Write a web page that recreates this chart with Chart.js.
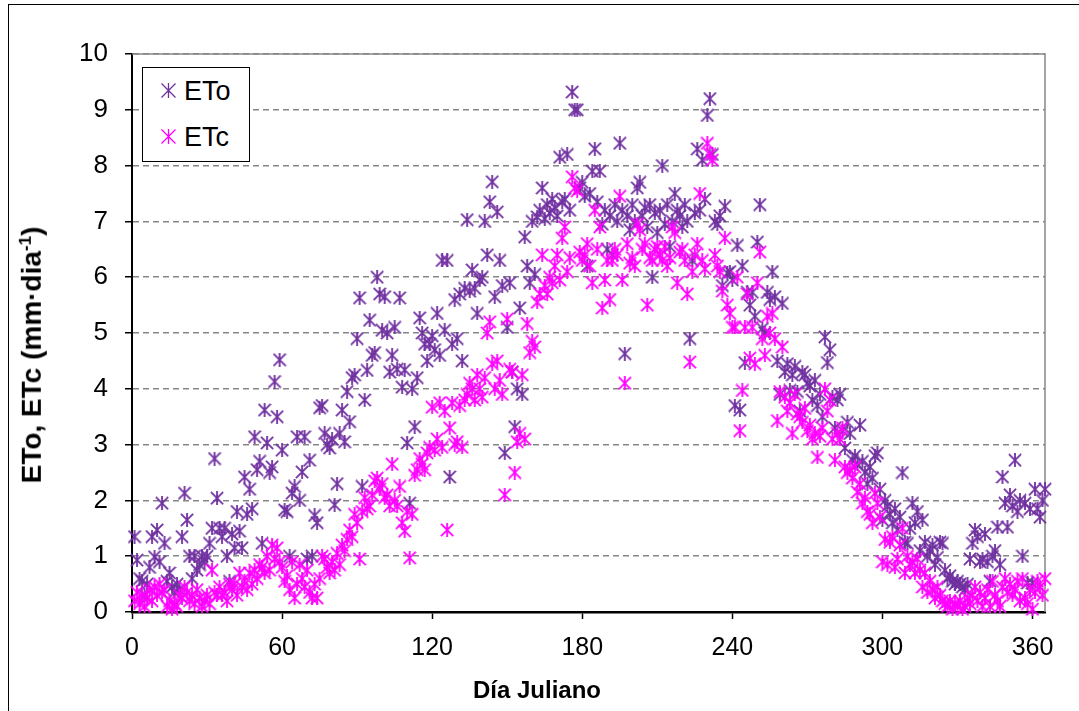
<!DOCTYPE html>
<html>
<head>
<meta charset="utf-8">
<script src="https://cdn.jsdelivr.net/npm/chart.js@4.4.1/dist/chart.umd.min.js"></script>
<style>
  body { margin: 0; background: #fff; }
  #wrap { position: relative; width: 1079px; height: 711px; overflow: hidden; background: #fff; }
  #frame { position: absolute; left: 8px; top: 4px; width: 1200px; height: 900px; border: 1px solid #000; }
  #chart { position: absolute; left: 0; top: 0; }
  .axis-title { position: absolute; font-family: "Liberation Sans", Arial, sans-serif; font-weight: bold; color: #000; white-space: nowrap; }
  #ytitle { left: 32px; top: 355px; font-size: 28px; transform: translate(-50%, -50%) rotate(-90deg); }
  #ytitle sup { font-size: 17px; }
  #xtitle { left: 537px; top: 690px; font-size: 24px; transform: translate(-50%, -50%); }
  #legend { position: absolute; left: 142px; top: 67px; width: 106px; height: 93px; border: 1px solid #000; background: #fff;
            font-family: "Liberation Sans", Arial, sans-serif; font-size: 27px; color: #000; }
  #legend .item { position: absolute; left: 18px; height: 30px; line-height: 30px; }
  #legend svg { vertical-align: middle; margin-right: 8px; position: relative; top: -2px; }
</style>
</head>
<body>
<div id="wrap">
  <div id="frame"></div>
  <canvas id="chart" width="1079" height="711"></canvas>
  <div id="ytitle" class="axis-title">ETo, ETc (mm·dia<sup>-1</sup>)</div>
  <div id="xtitle" class="axis-title">Día Juliano</div>
  <div id="legend"></div>
</div>
<script>
// daily values, day 1 .. 365
const firstDay = 1;
const seriesNames = ['ETo', 'ETc'];
const seriesColors = ['#7030A0', '#FF00FF'];

const eto = [
  1.35, 0.93, 0.6, 0.55, 0.3, 0.5, 0.8, 1.35, 0.99, 1.47,
  0.9, 1.95, 1.23, 0.55, 0.7, 0.45, 0.35, 0.5, 0.4, 1.35,
  2.13, 1.65, 1.0, 0.6, 1.0, 0.75, 0.85, 1.0, 0.9, 1.0,
  1.23, 1.5, 2.75, 2.04, 1.5, 1.35, 1.5, 1.0, 0.55, 1.4,
  1.15, 1.8, 1.45, 1.15, 2.42, 1.75, 2.2, 1.85, 3.14, 2.55,
  2.7, 1.23, 3.62, 3.03, 2.5, 2.6, 4.13, 3.5, 4.52, 2.9,
  1.83, 1.8, 1.0, 2.13, 2.25, 3.14, 2.0, 2.51, 3.14, 0.95,
  2.72, 1.0, 1.73, 1.6, 3.66, 3.7, 3.2, 3.0, 2.94, 3.1,
  1.92, 2.3, 3.2, 3.62, 3.05, 3.95, 3.41, 4.2, 4.25, 4.9,
  5.63, 2.25, 3.8, 4.33, 5.23, 4.6, 4.65, 6.0, 5.7, 5.05,
  5.65, 5.0, 4.3, 4.6, 5.1, 4.35, 5.63, 4.03, 4.34, 3.03,
  1.95, 4.0, 3.32, 4.2, 5.27, 5.0, 4.8, 4.5, 4.8, 4.95,
  4.7, 5.35, 4.6, 6.3, 5.05, 6.3, 2.42, 4.8, 5.6, 4.9,
  5.7, 4.5, 5.8, 7.03, 5.75, 6.13, 5.8, 5.35, 5.95, 6.0,
  7.0, 6.4, 7.35, 7.71, 5.65, 7.17, 6.3, 5.85, 2.85, 5.1,
  5.9, 4.3, 3.32, 4.0, 5.45, 3.9, 6.72, 6.2, 5.9, 7.0,
  6.05, 7.08, 7.2, 7.6, 7.05, 7.3, 7.15, 7.4, 7.25, 7.1,
  8.15, 7.35, 7.4, 8.2, 7.2, 9.32, 9.0, 9.0, 7.6, 7.7,
  7.45, 6.2, 7.5, 7.9, 8.3, 7.35, 7.9, 6.95, 7.2, 6.5,
  7.1, 6.4, 7.3, 7.0, 8.4, 7.2, 4.63, 7.1, 6.85, 7.3,
  7.0, 7.6, 7.7, 7.1, 7.25, 6.9, 7.3, 6.0, 7.15, 6.8,
  7.2, 8.0, 6.95, 7.3, 6.55, 7.0, 7.5, 7.2, 7.1, 6.9,
  7.3, 7.0, 4.9, 6.3, 7.15, 8.3, 7.2, 8.1, 7.4, 8.9,
  9.2, 8.2, 7.0, 6.95, 7.1, 5.85, 7.27, 6.07, 6.1, 5.95,
  3.7, 6.57, 3.62, 6.2, 4.47, 5.73, 5.5, 5.73, 5.3, 6.63,
  7.3, 5.08, 5.0, 5.73, 5.6, 6.1, 5.65, 4.5, 3.9, 5.53,
  4.3, 4.45, 3.97, 4.25, 4.4, 3.95, 3.6, 4.3, 4.25, 4.1,
  4.05, 3.8, 4.15, 3.7, 3.9, 3.5, 4.93, 4.47, 4.7, 3.85,
  3.3, 3.8, 3.9, 3.25, 2.94, 3.4, 3.2, 2.72, 2.8, 2.65,
  3.35, 2.7, 2.5, 2.3, 2.6, 2.4, 2.8, 2.85, 2.2, 1.65,
  2.0, 1.9, 1.75, 1.6, 1.85, 1.47, 1.7, 2.5, 1.25, 1.23,
  1.5, 1.95, 1.6, 1.8, 1.1, 1.65, 1.25, 1.0, 1.1, 1.2,
  0.85, 0.98, 1.25, 1.23, 0.75, 0.6, 0.65, 0.55, 0.5, 0.55,
  0.5, 0.45, 0.4, 0.5, 0.95, 1.23, 1.47, 1.35, 0.9, 0.95,
  1.4, 0.9, 0.55, 1.0, 1.1, 1.52, 0.85, 2.42, 1.95, 1.52,
  2.1, 1.9, 2.72, 1.8, 2.0, 1.0, 1.95, 0.52, 1.85, 0.52,
  2.2, 1.85, 1.7, 2.0, 2.2
];

const etc = [
  0.2, 0.35, 0.15, 0.3, 0.1, 0.25, 0.4, 0.2, 0.45, 0.3,
  0.5, 0.35, 0.4, 0.1, 0.2, 0.05, 0.15, 0.1, 0.3, 0.25,
  0.45, 0.35, 0.2, 0.3, 0.15, 0.4, 0.25, 0.1, 0.2, 0.3,
  0.15, 0.75, 0.35, 0.3, 0.45, 0.3, 0.35, 0.2, 0.5, 0.4,
  0.5, 0.3, 0.7, 0.45, 0.55, 0.4, 0.7, 0.5, 0.75, 0.6,
  0.85, 0.8, 0.7, 1.0, 0.75, 1.2, 0.95, 1.15, 0.9, 0.8,
  0.55, 0.65, 0.4, 0.9, 0.25, 0.5, 0.85, 0.6, 0.45, 0.75,
  0.35, 0.25, 0.5, 0.25, 0.6, 1.0, 0.95, 0.8, 0.7, 0.9,
  0.75, 1.05, 0.85, 1.2, 1.1, 1.3, 1.47, 1.35, 1.75, 1.6,
  0.95, 1.8, 2.05, 1.85, 1.9, 2.1, 2.35, 2.4, 2.2, 2.3,
  2.05, 2.1, 1.9, 2.65, 2.0, 1.9, 2.25, 1.6, 1.45, 1.8,
  0.97, 1.75, 2.45, 2.55, 2.75, 2.65, 2.55, 2.85, 2.95, 3.67,
  2.9, 3.1, 3.75, 2.95, 3.6, 1.47, 3.3, 3.75, 3.0, 3.05,
  3.7, 2.95, 3.8, 3.9, 4.1, 4.0, 3.8, 4.25, 4.0, 3.85,
  4.2, 5.0, 5.2, 4.45, 4.0, 4.5, 4.15, 3.9, 2.1, 5.25,
  4.35, 4.3, 2.5, 3.05, 3.2, 4.25, 3.1, 5.17, 4.65, 4.85,
  4.75, 5.55, 5.7, 6.4, 5.85, 5.7, 6.0, 5.9, 6.2, 6.4,
  5.95, 6.7, 6.9, 6.1, 6.35, 7.8, 7.6, 7.55, 6.45, 6.3,
  6.4, 6.6, 6.2, 5.9, 7.2, 6.5, 6.9, 5.45, 5.95, 6.3,
  5.6, 6.3, 6.5, 6.4, 7.45, 5.95, 4.1, 6.6, 6.25, 6.35,
  6.2, 6.95, 6.85, 6.5, 6.6, 5.5, 6.35, 6.3, 6.5, 6.55,
  6.4, 6.3, 6.55, 6.2, 6.35, 6.9, 6.8, 5.9, 6.45, 6.5,
  6.3, 5.7, 4.48, 6.1, 6.4, 6.6, 7.5, 6.3, 6.15, 8.4,
  8.2, 8.1, 6.4, 6.2, 6.1, 5.75, 6.7, 5.5, 5.35, 5.1,
  5.1, 6.0, 3.25, 3.97, 5.1, 5.7, 4.55, 5.1, 4.45, 5.9,
  6.45, 4.9, 4.6, 5.3, 5.0, 5.35, 4.9, 3.43, 3.95, 4.75,
  3.85, 3.6, 3.75, 3.2, 3.9, 3.55, 3.5, 3.4, 3.65, 3.25,
  3.35, 3.1, 3.2, 2.77, 3.15, 3.3, 4.0, 3.6, 3.8, 3.1,
  2.72, 3.2, 3.1, 3.3, 2.6, 2.5, 2.55, 2.4, 2.6, 2.15,
  2.3, 1.95, 2.05, 1.8, 1.75, 1.6, 2.13, 1.95, 1.7, 0.9,
  1.3, 0.85, 1.25, 1.35, 0.8, 0.95, 1.2, 1.5, 0.7, 1.0,
  0.85, 0.9, 0.7, 0.95, 0.75, 0.45, 0.7, 0.35, 0.55, 0.4,
  0.25, 0.45, 0.3, 0.2, 0.15, 0.1, 0.2, 0.05, 0.15, 0.1,
  0.2, 0.05, 0.1, 0.25, 0.15, 0.3, 0.45, 0.2, 0.35, 0.1,
  0.25, 0.4, 0.1, 0.55, 0.3, 0.2, 0.1, 0.45, 0.6, 0.35,
  0.5, 0.3, 0.4, 0.55, 0.2, 0.6, 0.25, 0.15, 0.4, 0.05,
  0.35, 0.55, 0.45, 0.3, 0.6
];

const xTicks = [0, 60, 120, 180, 240, 300, 360];
const yTicks = [0, 1, 2, 3, 4, 5, 6, 7, 8, 9, 10];

// Excel style star marker: vertical bar plus an X
function starMarker(color, size, lw) {
  const c = document.createElement('canvas');
  c.width = size;
  c.height = size;
  const g = c.getContext('2d');
  g.strokeStyle = color;
  g.lineWidth = lw;
  const m = lw / 2;
  g.beginPath();
  g.moveTo(size / 2, 0); g.lineTo(size / 2, size);
  g.moveTo(m, m); g.lineTo(size - m, size - m);
  g.moveTo(size - m, m); g.lineTo(m, size - m);
  g.stroke();
  return c;
}

function starSvg(color) {
  return '<svg width="15" height="15" viewBox="0 0 15 15"><path d="M7.5 0V15M0.5 0.5L14.5 14.5M14.5 0.5L0.5 14.5" stroke="' +
    color + '" stroke-width="1.3" fill="none"/></svg>';
}

// html legend inside the plot area
const legendEl = document.getElementById('legend');
seriesNames.forEach((name, i) => {
  const item = document.createElement('div');
  item.className = 'item';
  item.style.top = (8 + i * 46) + 'px';
  item.innerHTML = starSvg(seriesColors[i]) + name;
  legendEl.appendChild(item);
});

// gray top and right edges of the plot area
const plotFrame = {
  id: 'plotFrame',
  beforeDatasetsDraw(chart) {
    const { ctx, chartArea: a } = chart;
    ctx.save();
    ctx.strokeStyle = '#868686';
    ctx.lineWidth = 1.5;
    ctx.beginPath();
    ctx.moveTo(a.left, a.top);
    ctx.lineTo(a.right, a.top);
    ctx.lineTo(a.right, a.bottom);
    ctx.stroke();
    ctx.restore();
  }
};

const allSeries = [eto, etc];
const datasets = allSeries.map((vals, i) => ({
  label: seriesNames[i],
  data: vals.map((v, k) => ({ x: firstDay + k, y: v })),
  pointStyle: starMarker(seriesColors[i], 14, 1.8),
  pointRadius: 7,
  borderColor: seriesColors[i],
  backgroundColor: seriesColors[i],
  showLine: false,
  clip: false,
  order: 2 - i
}));

new Chart(document.getElementById('chart'), {
  type: 'scatter',
  data: { datasets: datasets },
  plugins: [plotFrame],
  options: {
    responsive: false,
    animation: false,
    layout: { padding: { top: 54, right: 34, bottom: 0, left: 0 } },
    plugins: {
      legend: { display: false },
      tooltip: { enabled: false }
    },
    scales: {
      x: {
        type: 'linear',
        min: 0,
        max: 365,
        afterFit: (s) => { s.height = 99; },
        afterBuildTicks: (s) => { s.ticks = xTicks.map(v => ({ value: v })); },
        grid: { drawOnChartArea: false, drawTicks: true, tickLength: 7, tickColor: '#000', tickWidth: 1.5 },
        border: { display: true, color: '#000', width: 2.5 },
        ticks: {
          color: '#000',
          font: { family: '"Liberation Sans", Arial', size: 25 },
          padding: 14,
          maxRotation: 0,
          autoSkip: false
        }
      },
      y: {
        min: 0,
        max: 10,
        afterFit: (s) => { s.width = 132; },
        afterBuildTicks: (s) => { s.ticks = yTicks.map(v => ({ value: v })); },
        grid: {
          color: (c) => (c.tick && c.tick.value === 0) ? 'rgba(0,0,0,0)' : '#868686',
          lineWidth: 1.5,
          drawTicks: true,
          tickLength: 7,
          tickColor: '#000',
          tickWidth: 1.5
        },
        border: { display: true, color: '#000', width: 2, dash: [6, 4] },
        ticks: {
          color: '#000',
          font: { family: '"Liberation Sans", Arial', size: 26 },
          padding: 17
        }
      }
    }
  }
});
</script>
</body>
</html>
